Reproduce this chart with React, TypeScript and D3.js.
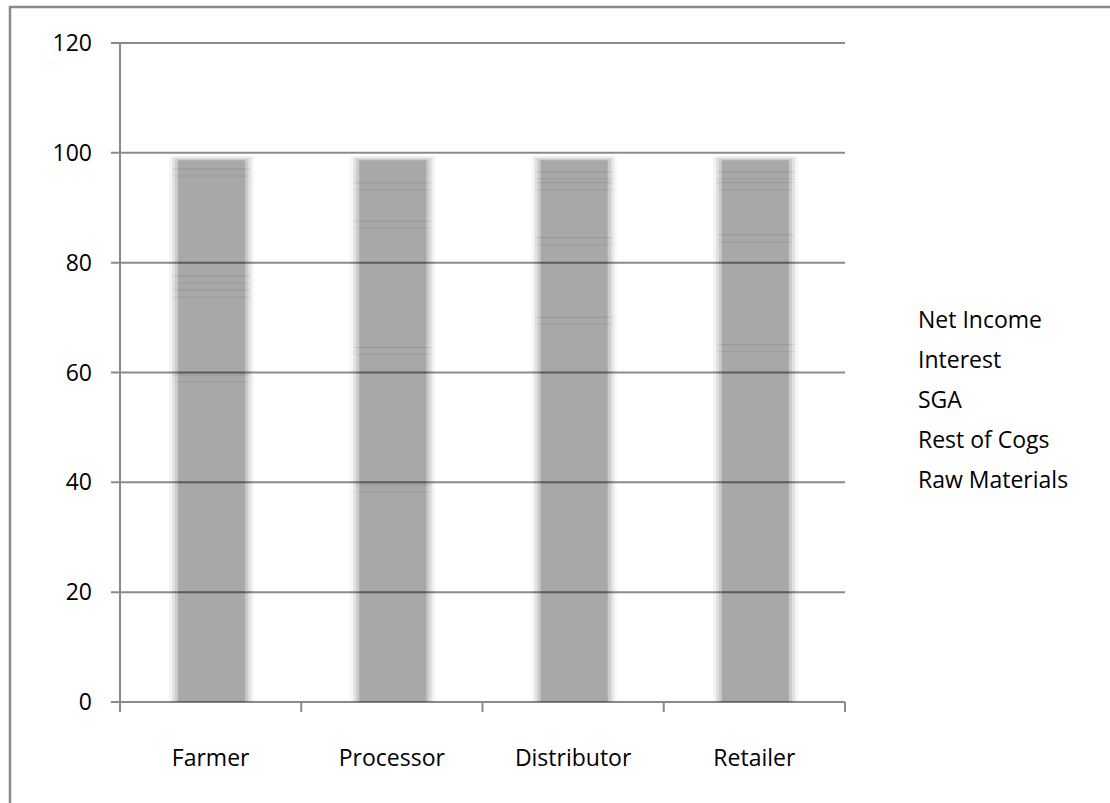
import React, { useEffect, useRef } from 'react';
import * as d3 from 'd3';

const categories = ['Farmer', 'Processor', 'Distributor', 'Retailer'];
const seriesNames = ['Raw Materials', 'Rest of Cogs', 'SGA', 'Interest', 'Net Income'];
const rawMaterials = [59, 39, 69.5, 64.5];
const restOfCogs = [15.5, 25, 14.5, 20];
const sga = [2.5, 23, 10, 9.5];
const interest = [19.5, 7, 2, 2];
const netIncome = [2.5, 5, 3, 3];
const yTicks = [0, 20, 40, 60, 80, 100, 120];

const App = () => {
  const ref = useRef<SVGSVGElement>(null);

  useEffect(() => {
    const width = 1110, height = 803;
    const left = 120, right = 845, top = 43, bottom = 702;
    const svg = d3.select(ref.current);
    svg.selectAll('*').remove();
    const font = '"Open Sans", "Noto Sans", sans-serif';

    // outer frame
    svg.append('rect')
      .attr('x', 10).attr('y', 7)
      .attr('width', width + 20).attr('height', height + 20)
      .style('fill', '#fff').style('stroke', '#8a8a8a').style('stroke-width', 2.5);

    const x = d3.scaleBand().domain(categories).range([left, right]).padding(0);
    const y = d3.scaleLinear().domain([0, 120]).range([bottom, top]);

    const rows = categories.map((c, i) => ({
      cat: c,
      'Raw Materials': rawMaterials[i],
      'Rest of Cogs': restOfCogs[i],
      'SGA': sga[i],
      'Interest': interest[i],
      'Net Income': netIncome[i],
    }));
    const stacked = d3.stack<any>().keys(seriesNames)(rows);

    const barW = x.bandwidth() * 0.37;
    const g = svg.append('g');

    // soft glow around each bar
    const glow = [
      { pad: 9, op: 0.04 },
      { pad: 6, op: 0.08 },
      { pad: 3, op: 0.1 },
      { pad: 0, op: 0.17 },
    ];
    rows.forEach((r, i) => {
      const cx = (x(r.cat) as number) + x.bandwidth() / 2 + 1;
      const topVal = stacked[stacked.length - 1][i][1];
      glow.forEach(l => {
        g.append('rect')
          .attr('x', cx - barW / 2 - l.pad)
          .attr('y', y(topVal) - l.pad / 2 + 2)
          .attr('width', barW + 2 * l.pad)
          .attr('height', y(0) - y(topVal) + l.pad / 2 - 2)
          .style('fill', '#000')
          .style('opacity', l.op);
      });
    });

    // segment boundaries (faint double lines)
    stacked.forEach((s, si) => {
      if (si === 0) return;
      s.forEach((d, i) => {
        const cx = (x(categories[i]) as number) + x.bandwidth() / 2 + 1;
        [0, 7].forEach((off, k) => {
          g.append('line')
            .attr('x1', cx - barW / 2 - 5).attr('x2', cx + barW / 2 + 5)
            .attr('y1', y(d[0]) - 3 + off).attr('y2', y(d[0]) - 3 + off)
            .style('stroke', '#000')
            .style('stroke-width', 1)
            .style('opacity', k === 0 ? 0.1 : 0.07);
        });
      });
    });

    // gridlines
    yTicks.forEach(t => {
      svg.append('line')
        .attr('x1', left - 9).attr('x2', right)
        .attr('y1', y(t)).attr('y2', y(t))
        .style('stroke', '#000').style('stroke-opacity', 0.46).style('stroke-width', 2);
      svg.append('text')
        .attr('x', 92).attr('y', y(t))
        .attr('dy', '0.35em')
        .attr('text-anchor', 'end')
        .style('font-family', font).style('font-size', '23px').style('fill', '#000')
        .text(t);
    });

    // y axis
    svg.append('line')
      .attr('x1', left).attr('x2', left).attr('y1', top).attr('y2', bottom + 10)
      .style('stroke', '#8a8a8a').style('stroke-width', 2);

    // x ticks
    const bounds = categories.map(c => (x(c) as number) + x.bandwidth());
    bounds.forEach(b => {
      svg.append('line')
        .attr('x1', b).attr('x2', b).attr('y1', bottom).attr('y2', bottom + 10)
        .style('stroke', '#8a8a8a').style('stroke-width', 2);
    });

    categories.forEach(c => {
      svg.append('text')
        .attr('x', (x(c) as number) + x.bandwidth() / 2)
        .attr('y', 758).attr('dy', '0.35em')
        .attr('text-anchor', 'middle')
        .style('font-family', font).style('font-size', '23px').style('fill', '#000')
        .text(c);
    });

    // legend (text only, top entry = last series)
    seriesNames.slice().reverse().forEach((n, i) => {
      svg.append('text')
        .attr('x', 918).attr('y', 320 + i * 40).attr('dy', '0.35em')
        .style('font-family', font).style('font-size', '23px').style('fill', '#000')
        .text(n);
    });
  }, []);

  return (
    <svg ref={ref} width={1110} height={803} style={{ position: 'absolute', left: 0, top: 0 }} />
  );
};

export default App;
